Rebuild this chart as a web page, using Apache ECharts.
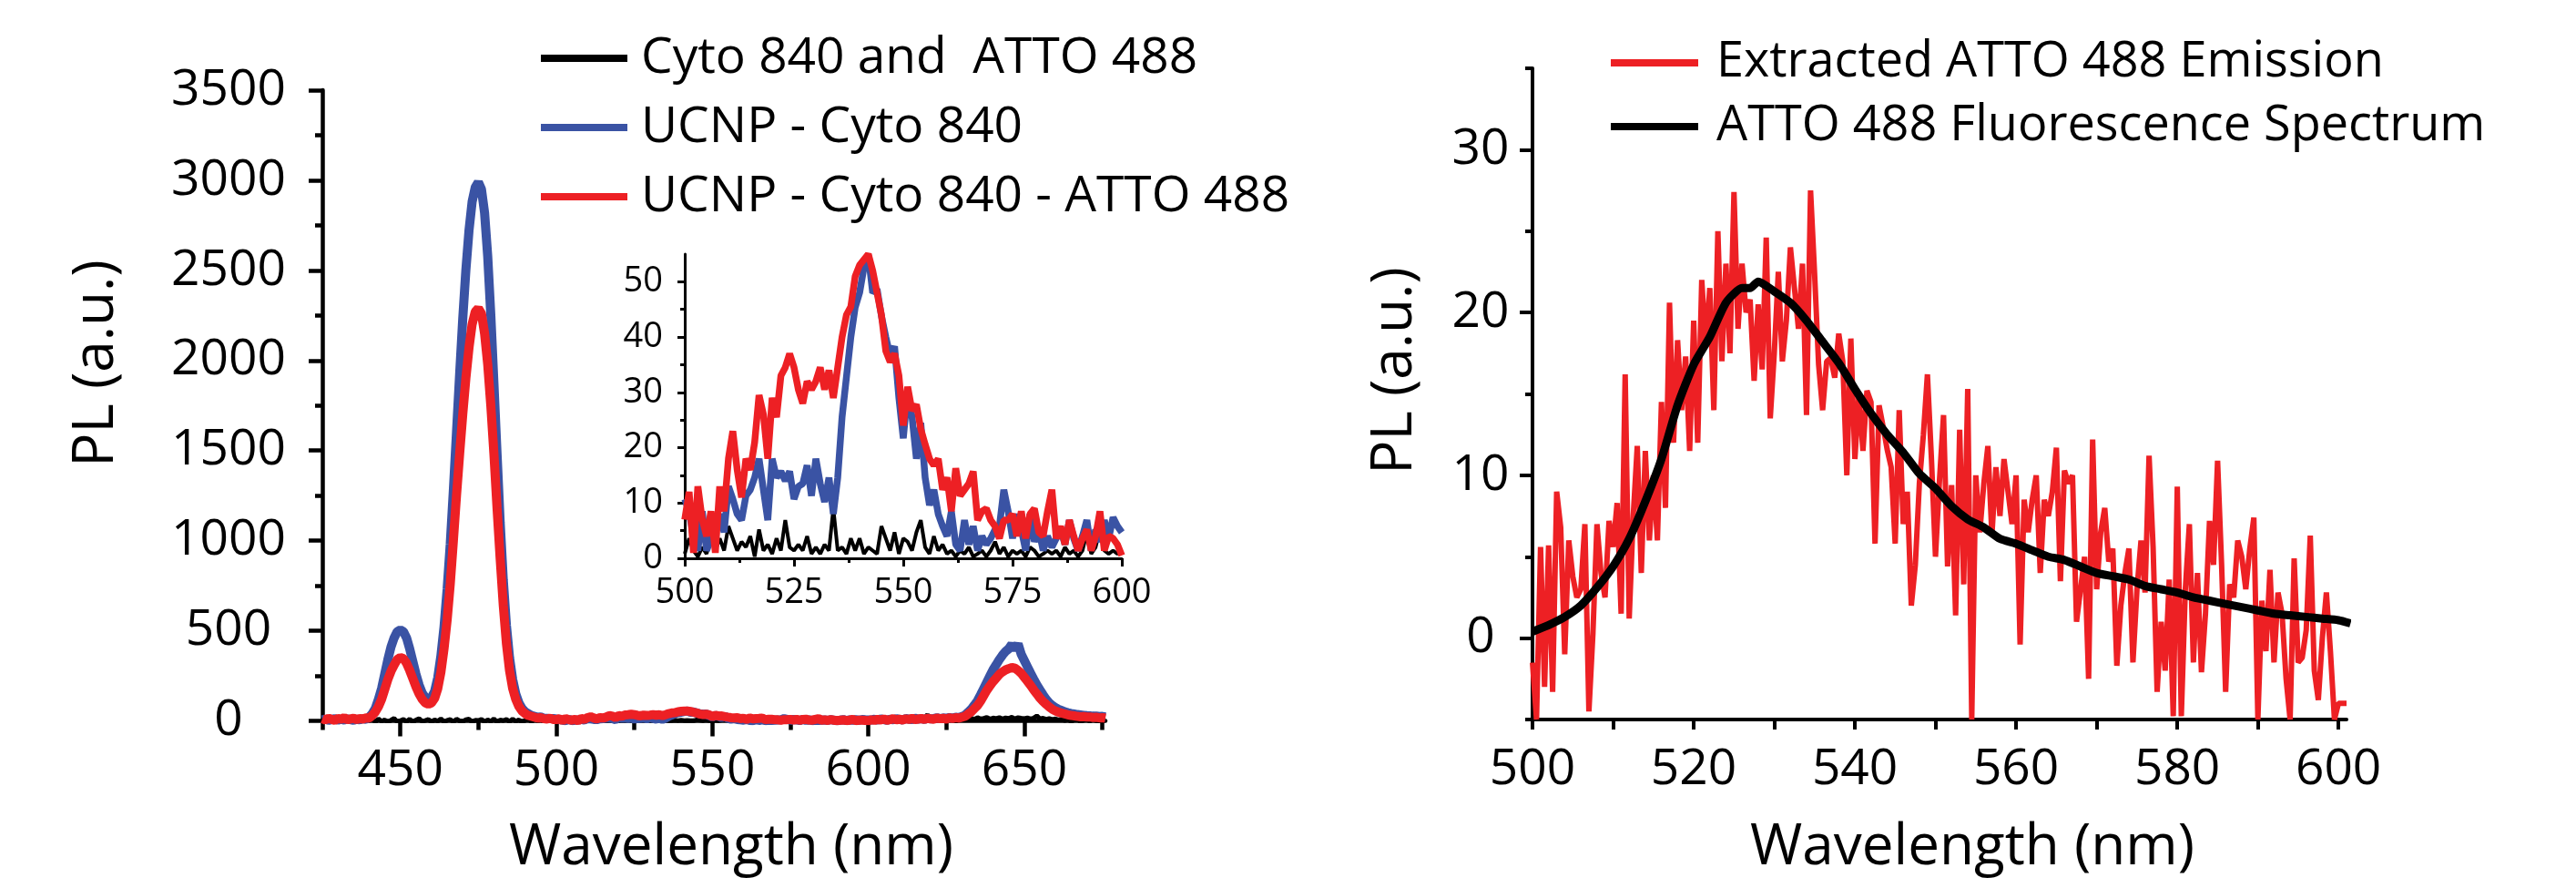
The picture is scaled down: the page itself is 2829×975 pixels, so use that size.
<!DOCTYPE html>
<html>
<head>
<meta charset="utf-8">
<script src="https://cdn.jsdelivr.net/npm/echarts@6/dist/echarts.min.js"></script>
<style>
  html, body { margin: 0; background: #fff; }
  #chart { width: 2829px; height: 975px; }
</style>
</head>
<body>
<div id="chart"></div>
<script>
// ── series names ──
const NAME_BK = "Cyto 840 and  ATTO 488";
const NAME_BL = "UCNP - Cyto 840";
const NAME_RD = "UCNP - Cyto 840 - ATTO 488";
const NAME_EXT = "Extracted ATTO 488 Emission";
const NAME_FL = "ATTO 488 Fluorescence Spectrum";

// ── left panel, 425–499 nm, 1 nm step ──
const redLow = [12, 5, 15, 8, 3, 14, 9, 18, 6, 11, 15, 7, 13, 10, 16,
  15, 30, 50, 80, 120, 175, 230, 275, 310, 340, 352, 345, 320, 280, 235,
  190, 150, 120, 100, 92, 100, 125, 180, 270, 400, 560, 760, 1000, 1250, 1480,
  1700, 1900, 2070, 2200, 2270, 2290, 2260, 2150, 1980, 1750, 1480, 1180, 900, 640, 430,
  280, 180, 120, 80, 55, 40, 30, 25, 20, 15, 18, 12, 10, 15, 8];
const blueLow = [6, 10, 3, 8, 12, 4, 9, 5, 11, 7, 3, 10, 6, 12, 9,
  20, 40, 70, 120, 180, 260, 340, 410, 460, 495, 505, 495, 460, 400, 330,
  260, 200, 155, 130, 120, 130, 165, 240, 360, 520, 730, 980, 1280, 1600, 1920,
  2230, 2500, 2720, 2880, 2960, 2990, 2950, 2820, 2580, 2250, 1870, 1480, 1100, 780, 530,
  350, 230, 150, 100, 70, 50, 40, 30, 25, 20, 22, 15, 14, 12, 13];
const blackLow = [4, -6, 8, -3, 10, -8, 2, 6, -10, 5, 12, -4, 0, 7, -7,
  3, 9, -5, 11, -2, 6, -9, 4, 14, -6, 1, 8, -4, 10, -7,
  5, 13, -3, 2, 9, -8, 6, -1, 12, -5, 3, 8, -6, 10, 0,
  -4, 7, 11, -8, 4, 2, 9, -5, 6, -3, 12, -7, 5, 1, 8,
  -4, 10, -2, 6, -9, 3, 11, -5, 7, 0, 9, -6, 4, 8, -3];

// ── 500–600 nm, 1 nm step (inset, also part of the main traces) ──
const redMid = [7, 12, 1, 13, 7, 4, 8.5, 1, 13, 8.5,
  18, 23, 16, 11, 18, 16, 21, 29.5, 26, 18,
  29, 25.5, 33, 34.5, 37, 34.5, 30.5, 28, 32, 30.5,
  32, 34.5, 30.5, 34, 29, 34.5, 40, 44, 45.5, 51,
  53, 54, 55, 52, 48, 44, 37.5, 35.5, 37, 33,
  24, 31, 26.7, 27.8, 23.4, 20.6, 18, 16.8, 18, 12.4,
  14.6, 8.5, 16.3, 11.3, 12.4, 13.5, 15.7, 6.9, 8.5, 9,
  6.9, 5.8, 3.6, 6.9, 6.9, 8, 4, 8.5, 3.6, 8,
  9, 4.7, 4, 8.5, 12.4, 3.6, 5.8, 2.5, 6.9, 4,
  1.4, 3.6, 5.2, 1.4, 4, 8.5, 1.4, 4, 3.6, 2.5,
  0.5];
const blueMid = [10.7, 8.5, 3.6, 1.4, 8.5, 1.4, 3.6, 5.2, 8, 4.7,
  13, 10.7, 8, 6.9, 11.3, 12.4, 14.6, 18, 12.4, 6.9,
  18, 14.6, 15.7, 14, 15.7, 10.7, 13, 13.5, 16.8, 11.3,
  18, 13.5, 10.2, 14.6, 8, 14.6, 25.6, 32.8, 40, 45.4,
  48, 52.6, 54.8, 48, 48.7, 43.8, 40, 36.6, 38.3, 29,
  21.7, 30, 25.6, 18, 24.5, 14.6, 9.6, 12.4, 8, 5.8,
  4, 8.5, 2.5, 1.4, 6.9, 2.5, 5.8, 1.4, 4, 2.5,
  3.6, 5.2, 5.8, 12.4, 8.5, 3.6, 8, 5.2, 1.4, 8,
  3, 5.2, 1.4, 4, 2, 3.6, 5.2, 2.5, 6.9, 3.6,
  1.4, 4, 6.9, 1.4, 5.2, 3, 6.9, 3.6, 7.4, 5.8,
  4.7];
const blackMid = [0.8, 3.6, 1.4, 0.3, 2, 0.8, 4, 1.4, 3.6, 1.4,
  5.8, 3.6, 1.4, 3, 2, 4, 0.3, 5.2, 1.4, 2.5,
  0.8, 3.6, 1.4, 6.9, 2, 1.4, 2.5, 1.4, 4, 0.8,
  2, 0.8, 2.5, 1.4, 9, 1.4, 2, 0.8, 3.6, 1.4,
  3.6, 0.8, 2, 1.4, 0.8, 5.8, 3.6, 1.4, 4.7, 0.8,
  3.6, 3, 1.4, 4.7, 6.9, 2, 0.8, 4, 1.4, 2.5,
  0.8, 1.4, 0.3, 1.4, 0.8, 2, 0.3, 0.8, 1.4, 0.3,
  1.4, 3, 0.8, 2, 0.3, 1.4, 0.8, 1.4, 0.3, 2,
  1.4, 0.3, 0.8, 1.4, 0.8, 1.4, 0.3, 2, 0.8, 1.4,
  0.3, 1.4, 4.7, 0.8, 2, 5.2, 1.4, 0.8, 1.4, 0.8,
  1.4];

// ── 601–676 nm, 1 nm step ──
const redHigh = [6, 3, 8, 5, 10, 4, 7, 12, 6, 9,
  5, 11, 8, 14, 7, 10, 13, 8, 15, 11,
  9, 16, 12, 14, 10, 17, 13, 18, 15, 20,
  25, 38, 50, 68, 85, 110, 140, 170, 195, 218,
  238, 258, 272, 283, 290, 296, 292, 280, 264, 242,
  220, 197, 172, 150, 127, 108, 92, 77, 64, 55,
  48, 43, 38, 34, 30, 28, 25, 23, 24, 21,
  22, 19, 20, 17, 18, 15];
const blueHigh = [5, 9, 4, 11, 7, 3, 10, 6, 12, 8,
  5, 13, 9, 7, 14, 10, 12, 8, 15, 11,
  13, 17, 12, 16, 14, 18, 15, 20, 18, 24,
  32, 48, 65, 88, 112, 145, 180, 215, 250, 285,
  312, 340, 365, 385, 400, 425, 395, 428, 370, 335,
  300, 265, 232, 200, 172, 145, 120, 100, 85, 73,
  64, 57, 50, 45, 41, 38, 35, 33, 31, 29,
  28, 26, 27, 24, 25, 22];
const blackHigh = [3, -5, 8, 1, -7, 6, 10, -3, 4, -6,
  7, 2, -4, 9, -2, 5, -8, 11, 35, 3,
  -5, 8, 0, 6, -4, 10, 2, -6, 9, 4,
  12, 6, 15, 9, 18, 11, 14, 20, 10, 16,
  13, 19, 11, 17, 14, 21, 12, 18, 15, 13,
  17, 11, 16, 28, 12, 15, 9, 13, 8, 11,
  6, 9, 2, 7, -3, 5, 8, -4, 3, 6,
  -2, 7, 1, -5, 4, 2];

// ── right panel: extracted emission, 500–601 nm, 0.5 nm step ──
const extracted = [-1.5, -5, 5.6, -3, 5.7, -3.3, 9, 6.8, -1, 6,
  3.8, 2.5, 3, 7, -4.5, 0.3, 7, 4, 2.5, 7.2,
  5.6, 8.3, 1.5, 16.2, 1.2, 7.5, 11.8, 4, 11.5, 6,
  10, 6, 14.5, 8, 20.6, 12, 18.3, 14, 17.3, 11.5,
  19.5, 12, 22, 18, 21.5, 14, 25, 17, 23, 17.5,
  27.4, 19, 23, 20, 20.8, 15.8, 20.5, 16.5, 24.6, 13.5,
  17.5, 22.5, 17, 19.5, 24, 21.5, 19, 23, 13.7, 27.5,
  22.4, 16.8, 14, 17, 17.2, 16, 18.7, 17, 10, 18.4,
  11, 15, 11.5, 15.2, 14.5, 5.8, 14.3, 13, 11.6, 10.5,
  5.8, 14, 7, 9, 2, 4.5, 9.5, 12.5, 16.2, 11,
  5, 9.7, 13.7, 4.4, 9.4, 1.4, 12.8, 3.3, 15.3, -5,
  10, 6.5, 9.5, 11.8, 6.3, 10.5, 7.5, 11, 9, 7,
  10, -0.4, 8.5, 6.5, 8.5, 10, 4, 8.5, 7.5, 9,
  11.7, 3.5, 10.3, 9.5, 10, 1, 3, 5, -2.5, 12.2,
  3, 6.5, 8, 4.7, 5.5, -1.7, 2, 4, 5.5, -1.5,
  3, 6, 2.8, 11.2, 5.6, -3.3, 1, -2, 3.6, -4.8,
  9.3, -4.8, 3, 7, -1.5, 4, -2.1, 1.5, 7.2, 4.5,
  10.9, 4.5, -3.3, 3.3, 2.5, 6, 5, 3, 5.5, 7.4,
  -5, 2.3, -0.8, 4.2, -1.5, 2.8, 1.5, -2.5, -5, 4.9,
  -1.5, -1.2, 0.5, 6.3, -2, -3.8, 0, 2.8, -0.8, -5,
  -4, -4, -4];

// ── right panel: reference fluorescence spectrum ──
const fluorWl = [500, 502, 504, 506, 508, 510, 512, 514, 516, 518, 520, 522, 524, 526, 527,
  528, 530, 532, 534, 536, 538, 540, 542, 544, 546, 548, 550, 552, 554, 556, 558,
  560, 562, 564, 566, 568, 570, 572, 574, 576, 578, 580, 582, 584, 586, 588, 590,
  592, 594, 596, 598, 600, 601.5];
const fluorPL = [0.4, 0.8, 1.3, 2.0, 3.1, 4.4, 6.1, 8.4, 11.0, 14.3, 16.8, 18.5, 20.6, 21.5, 21.5,
  21.9, 21.3, 20.6, 19.5, 18.2, 16.9, 15.3, 13.8, 12.5, 11.4, 10.1, 9.2, 8.1, 7.3, 6.8, 6.1,
  5.8, 5.4, 5.0, 4.8, 4.4, 4.0, 3.8, 3.6, 3.2, 3.0, 2.8, 2.5, 2.3, 2.1, 1.9, 1.7,
  1.5, 1.4, 1.3, 1.2, 1.1, 0.9];

// ── tick values ──
const mainXMajor = [450, 500, 550, 600, 650];
const mainXMinor = [425, 475, 525, 575, 625, 675];
const insetYMajor = [0, 10, 20, 30, 40, 50];
const insetYMinor = [5, 15, 25, 35, 45];
const rightXTicks = [500, 510, 520, 530, 540, 550, 560, 570, 580, 590, 600];
const rightXLabels = [500, 520, 540, 560, 580, 600];
const rightYMajor = [0, 10, 20, 30];
const rightYMinor = [-5, 5, 15, 25, 35];

// ── colours / fonts ──
const RED = "#ED2024", BLUE = "#3A53A4", BLACK = "#000";
const FONT = "'Open Sans', sans-serif";

const pairs = (x0, step, ys) => ys.map((v, i) => [x0 + i * step, v]);
const joined = (lo, mid, hi) => [...pairs(425, 1, lo), ...pairs(500, 1, mid), ...pairs(601, 1, hi)];

const line = (w) => ({ color: BLACK, width: w });
const plain = (v) => String(v);   // no thousands separator
function xAx(grid, min, max, o) {
  return Object.assign({
    type: "value", gridIndex: grid, position: "bottom", min, max,
    axisLine: { onZero: false, lineStyle: line(4.5) },
    splitLine: { show: false },
  }, o);
}
function yAx(grid, min, max, o) {
  return Object.assign({
    type: "value", gridIndex: grid, position: "left", min, max,
    axisLine: { onZero: false, lineStyle: line(4.5) },
    splitLine: { show: false },
  }, o);
}
const lbl = (size, o) => Object.assign({ color: BLACK, fontSize: size, fontFamily: FONT, lineHeight: size, formatter: plain }, o);

const option = {
  animation: false,
  backgroundColor: "#fff",
  textStyle: { fontFamily: FONT, color: BLACK },
  grid: [
    { left: 354, top: 99, width: 860, height: 692.5 },
    { left: 752, top: 279, width: 480, height: 334 },
    { left: 1683, top: 75, width: 894, height: 715 },
  ],
  xAxis: [
    xAx(0, 425, 676, {
      axisTick: { customValues: mainXMajor, length: 17, lineStyle: line(4.5) },
      axisLabel: lbl(55, { customValues: mainXMajor, margin: 27 }),
    }),
    xAx(0, 425, 676, {
      axisLine: { show: false, onZero: false },
      axisTick: { customValues: mainXMinor, length: 10, lineStyle: line(4.5) },
      axisLabel: { show: false },
    }),
    xAx(1, 500, 600, {
      interval: 25,
      axisLine: { onZero: false, lineStyle: line(3) },
      axisTick: { length: 9, lineStyle: line(3) },
      minorTick: { show: true, splitNumber: 2, length: 5, lineStyle: line(3) },
      axisLabel: lbl(38, { margin: 19 }),
    }),
    xAx(2, 500, 601, {
      axisLine: { onZero: false, lineStyle: line(4) },
      axisTick: { customValues: rightXTicks, length: 11, lineStyle: line(4) },
      axisLabel: lbl(55, { customValues: rightXLabels, margin: 28 }),
    }),
  ],
  yAxis: [
    yAx(0, 0, 3500, {
      interval: 500,
      axisTick: { length: 15, lineStyle: line(4.5) },
      minorTick: { show: true, splitNumber: 2, length: 8, lineStyle: line(4.5) },
      minorSplitLine: { show: false },
      axisLabel: lbl(55, { align: "center", margin: 103, padding: [0, 0, 14, 0] }),
    }),
    yAx(1, 0, 55, {
      axisLine: { onZero: false, lineStyle: line(3) },
      axisTick: { customValues: insetYMajor, length: 8, lineStyle: line(3) },
      axisLabel: lbl(38, { customValues: insetYMajor, margin: 24, padding: [0, 0, 8, 0] }),
    }),
    yAx(1, 0, 55, {
      axisLine: { show: false, onZero: false },
      axisTick: { customValues: insetYMinor, length: 5, lineStyle: line(3) },
      axisLabel: { show: false },
    }),
    yAx(2, -5, 35, {
      axisLine: { onZero: false, lineStyle: line(4) },
      axisTick: { customValues: rightYMajor, length: 14, lineStyle: line(4) },
      axisLabel: lbl(55, { customValues: rightYMajor, align: "center", margin: 57, padding: [0, 0, 7, 0] }),
    }),
    yAx(2, -5, 35, {
      axisLine: { show: false, onZero: false },
      axisTick: { customValues: rightYMinor, length: 8, lineStyle: line(4) },
      axisLabel: { show: false },
    }),
  ],
  legend: [
    {
      data: [NAME_BK, NAME_BL, NAME_RD], orient: "vertical", left: 589, top: 31,
      icon: "rect", itemWidth: 95, itemHeight: 8, itemGap: 20, selectedMode: false,
      textStyle: { fontSize: 55, lineHeight: 56, fontFamily: FONT, color: BLACK, padding: [0, 0, 0, 10] },
    },
    {
      data: [NAME_EXT, NAME_FL], orient: "vertical", left: 1764, top: 37,
      icon: "rect", itemWidth: 96, itemHeight: 8, itemGap: 16, selectedMode: false,
      textStyle: { fontSize: 54, lineHeight: 50, fontFamily: FONT, color: BLACK, padding: [0, 0, 0, 15] },
    },
  ],
  graphic: [
    { type: "text", x: 803, y: 931, style: { text: "Wavelength (nm)", fontSize: 62, fontFamily: FONT, fill: BLACK, textAlign: "center", textVerticalAlign: "middle" } },
    { type: "text", x: 2166, y: 931, style: { text: "Wavelength (nm)", fontSize: 62, fontFamily: FONT, fill: BLACK, textAlign: "center", textVerticalAlign: "middle" } },
    { type: "text", x: 106, y: 399, rotation: Math.PI / 2, style: { text: "PL (a.u.)", fontSize: 62, fontFamily: FONT, fill: BLACK, textAlign: "center", textVerticalAlign: "middle" } },
    { type: "text", x: 1532, y: 407, rotation: Math.PI / 2, style: { text: "PL (a.u.)", fontSize: 62, fontFamily: FONT, fill: BLACK, textAlign: "center", textVerticalAlign: "middle" } },
  ],
  series: [
    // main panel
    { name: NAME_BK, type: "line", xAxisIndex: 0, yAxisIndex: 0, showSymbol: false, data: joined(blackLow, blackMid, blackHigh),
      itemStyle: { color: BLACK }, lineStyle: { color: BLACK, width: 5 } },
    { name: NAME_BL, type: "line", xAxisIndex: 0, yAxisIndex: 0, showSymbol: false, data: joined(blueLow, blueMid, blueHigh),
      itemStyle: { color: BLUE }, lineStyle: { color: BLUE, width: 10 } },
    { name: NAME_RD, type: "line", xAxisIndex: 0, yAxisIndex: 0, showSymbol: false, data: joined(redLow, redMid, redHigh),
      itemStyle: { color: RED }, lineStyle: { color: RED, width: 10 } },
    // inset
    { name: NAME_BK, type: "line", xAxisIndex: 2, yAxisIndex: 1, showSymbol: false, data: pairs(500, 1, blackMid),
      itemStyle: { color: BLACK }, lineStyle: { color: BLACK, width: 4 } },
    { name: NAME_BL, type: "line", xAxisIndex: 2, yAxisIndex: 1, showSymbol: false, data: pairs(500, 1, blueMid),
      itemStyle: { color: BLUE }, lineStyle: { color: BLUE, width: 7.5 } },
    { name: NAME_RD, type: "line", xAxisIndex: 2, yAxisIndex: 1, showSymbol: false, data: pairs(500, 1, redMid),
      itemStyle: { color: RED }, lineStyle: { color: RED, width: 7.5 } },
    // right panel
    { name: NAME_EXT, type: "line", xAxisIndex: 3, yAxisIndex: 3, showSymbol: false, data: pairs(500, 0.5, extracted),
      itemStyle: { color: RED }, lineStyle: { color: RED, width: 6 } },
    { name: NAME_FL, type: "line", xAxisIndex: 3, yAxisIndex: 3, showSymbol: false, smooth: 0.2,
      data: fluorWl.map((w, i) => [w, fluorPL[i]]),
      itemStyle: { color: BLACK }, lineStyle: { color: BLACK, width: 9 } },
  ],
};

const chart = echarts.init(document.getElementById("chart"), null, { width: 2829, height: 975, renderer: "canvas" });
chart.setOption(option);
</script>
</body>
</html>
